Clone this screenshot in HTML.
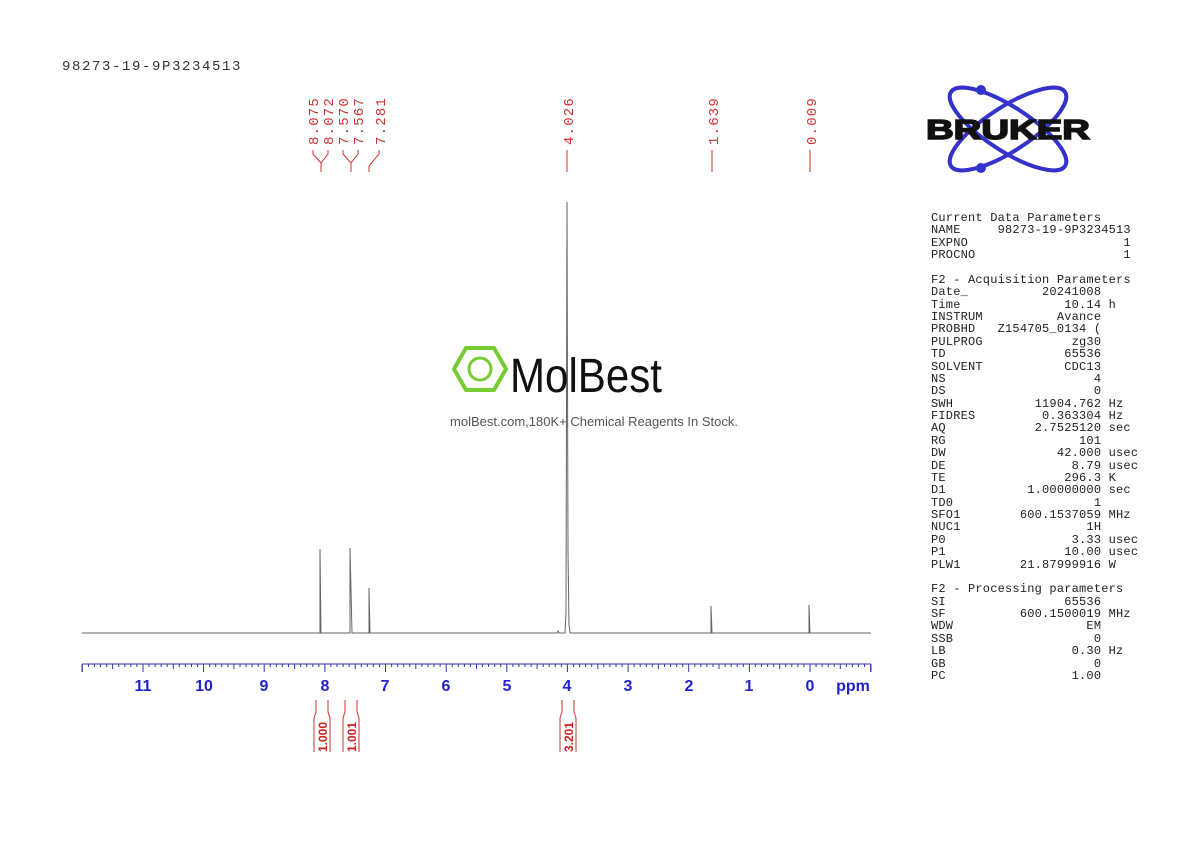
<!DOCTYPE html>
<html><head><meta charset="utf-8"><style>
body{margin:0;background:#fff;width:1190px;height:842px;overflow:hidden;position:relative}
.p{position:absolute;left:931px;top:212px;font:12px/12.38px "Liberation Mono",monospace;letter-spacing:0.2px;color:#222;white-space:pre}
</style></head><body>
<div style="position:absolute;left:62px;top:59px;font:14px 'Liberation Mono',monospace;letter-spacing:1.6px;color:#333">98273-19-9P3234513</div>
<svg width="1190" height="842" style="position:absolute;left:0;top:0">
<g font-family="Liberation Mono" font-size="14" fill="#c33" letter-spacing="1.2">
<text transform="translate(318,145) rotate(-90)">8.075</text>
<text transform="translate(333,145) rotate(-90)">8.072</text>
<text transform="translate(348,145) rotate(-90)">7.570</text>
<text transform="translate(363,145) rotate(-90)">7.567</text>
<text transform="translate(385,145) rotate(-90)">7.281</text>
<text transform="translate(573,145) rotate(-90)">4.026</text>
<text transform="translate(718,145) rotate(-90)">1.639</text>
<text transform="translate(816,145) rotate(-90)">0.009</text>
</g>
<g stroke="#c33" fill="none" stroke-width="1">
<path d="M313,150 L313,154 L321,163 L321,172 M328,150 L328,154 L321,163"/>
<path d="M343,150 L343,154 L351,163 L351,172 M358,150 L358,154 L351,163"/>
<path d="M379,150 L379,154 L369,166 L369,172"/>
<path d="M567,150 L567,172 M712,150 L712,172 M810,150 L810,172"/>
</g>
<path d="M82,633 L320,633 L320,549 L321,633 L350,633 L350,548 L352,633 L369,633 L369,588 L370,633 L557,633 L558,631 L559,633 L565,633 L566,612 L567,202 L568,552 L569,625 L570,633 L711,633 L711,606 L712,633 L809,633 L809,605 L810,633 L871,633" stroke="#666" fill="none" stroke-width="1"/>
<g stroke="#33a" stroke-width="1">
<line x1="82" y1="664" x2="871" y2="664"/>
<line x1="82" y1="664" x2="82" y2="672"/>
<line x1="871" y1="664" x2="871" y2="672"/>
</g>
<g id="ticks" stroke="#33a"></g>
<g font-family="Liberation Sans" font-weight="bold" font-size="16" fill="#22c" text-anchor="middle">
<text x="143" y="691">11</text><text x="204" y="691">10</text><text x="264" y="691">9</text><text x="325" y="691">8</text><text x="385" y="691">7</text><text x="446" y="691">6</text><text x="507" y="691">5</text><text x="567" y="691">4</text><text x="628" y="691">3</text><text x="689" y="691">2</text><text x="749" y="691">1</text><text x="810" y="691">0</text><text x="853" y="691">ppm</text>
</g>
<g stroke="#c33" fill="none">
<path d="M316,700 L316,712 L314,718 L314,752 M328,700 L328,712 L330,718 L330,752"/>
<path d="M345,700 L345,712 L343,718 L343,752 M357,700 L357,712 L359,718 L359,752"/>
<path d="M562,700 L562,712 L560,718 L560,752 M574,700 L574,712 L576,718 L576,752"/>
</g>
<g font-family="Liberation Sans" font-weight="bold" font-size="12" fill="#c22">
<text transform="translate(327,752) rotate(-90)">1.000</text>
<text transform="translate(356,752) rotate(-90)">1.001</text>
<text transform="translate(573,752) rotate(-90)">3.201</text>
</g>
<g fill="none" stroke="#33c" stroke-width="4">
<ellipse cx="1008" cy="129" rx="68" ry="22" transform="rotate(-33 1008 129)"/>
<ellipse cx="1008" cy="129" rx="68" ry="22" transform="rotate(33 1008 129)"/>
</g>
<circle cx="981" cy="90" r="5" fill="#33c"/><circle cx="981" cy="168" r="5" fill="#33c"/>
<text x="926" y="139" font-family="Liberation Sans" font-weight="bold" font-size="28" fill="#111" stroke="#111" stroke-width="1.5" textLength="164" lengthAdjust="spacingAndGlyphs">BRUKER</text>
<g fill="none" stroke="#7c3" stroke-width="4"><polygon points="466,348 494,348 506,369 494,390 466,390 454,369"/><circle cx="480" cy="369" r="11" stroke-width="3"/></g>
<text x="510" y="392" font-family="Liberation Sans" font-size="48" fill="#111" textLength="152" lengthAdjust="spacingAndGlyphs">MolBest</text>
<text x="594" y="426" font-family="Liberation Sans" font-size="13" fill="#555" text-anchor="middle">molBest.com,180K+ Chemical Reagents In Stock.</text>
</svg>
<script>
var g=document.getElementById('ticks'),s='';
for(var i=0;i<=130;i++){var p=12-i*0.1;var x=810-60.64*p;var h=(i%10==0)?8:(i%5==0?5:3);s+='<line x1="'+x.toFixed(1)+'" y1="664" x2="'+x.toFixed(1)+'" y2="'+(664+h)+'"/>';}
g.innerHTML=s;
</script>
<div class="p">Current Data Parameters
NAME     98273-19-9P3234513
EXPNO                     1
PROCNO                    1

F2 - Acquisition Parameters
Date_          20241008
Time              10.14 h
INSTRUM          Avance
PROBHD   Z154705_0134 (
PULPROG            zg30
TD                65536
SOLVENT           CDC13
NS                    4
DS                    0
SWH           11904.762 Hz
FIDRES         0.363304 Hz
AQ            2.7525120 sec
RG                  101
DW               42.000 usec
DE                 8.79 usec
TE                296.3 K
D1           1.00000000 sec
TD0                   1
SFO1        600.1537059 MHz
NUC1                 1H
P0                 3.33 usec
P1                10.00 usec
PLW1        21.87999916 W

F2 - Processing parameters
SI                65536
SF          600.1500019 MHz
WDW                  EM
SSB                   0
LB                 0.30 Hz
GB                    0
PC                 1.00</div>
</body></html>
